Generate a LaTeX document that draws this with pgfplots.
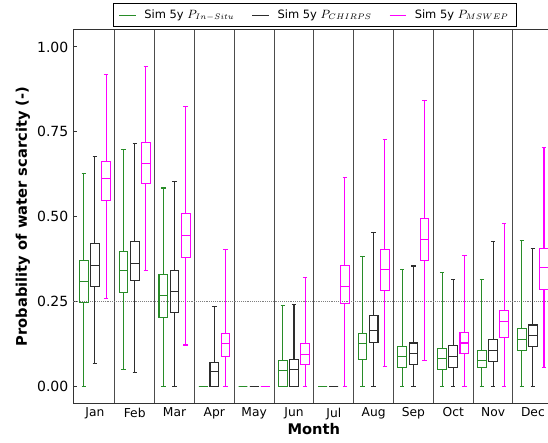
\documentclass[border=0pt]{standalone}
\usepackage{fontspec}
\setmainfont{DejaVu Sans}
\usepackage{pgfplots}
\pgfplotsset{compat=1.18}
\usepgfplotslibrary{statistics}
\definecolor{colG}{RGB}{40,140,40}
\definecolor{colK}{RGB}{45,45,45}
\definecolor{colM}{RGB}{255,0,255}
% \bp{colour}{position}{lower whisker}{Q1}{median}{Q3}{upper whisker}
\newcommand{\bp}[7]{\addplot[#1, forget plot, line width=0.8pt, solid,
  boxplot prepared={draw direction=y, draw position=#2, lower whisker=#3, lower quartile=#4,
  median=#5, upper quartile=#6, upper whisker=#7, box extend=0.22, whisker extend=0.11}]
  coordinates {};}
\begin{document}
\begin{tikzpicture}
\begin{axis}[
  at={(0,0)}, anchor=south west,
  scale only axis, width=356.25pt, height=279.75pt,
  xmin=0.45, xmax=12.38, ymin=-0.05, ymax=1.05,
  axis x line=box, axis y line=left,
  axis line style={-, draw=black!80, line width=0.75pt},
  xtick={1,...,12},
  xticklabels={Jan,Feb,Mar,Apr,May,Jun,Jul,Aug,Sep,Oct,Nov,Dec},
  xtick style={draw=none},
  xticklabel style={font=\fontsize{9.2}{11}\selectfont},
  ytick={0,0.25,0.5,0.75,1},
  ytick style={draw=black!80, line width=0.75pt},
  major tick length=3pt, tick align=inside,
  yticklabel style={font=\fontsize{10.5}{12}\selectfont,
    /pgf/number format/fixed, /pgf/number format/fixed zerofill,
    /pgf/number format/precision=2},
  /pgf/number format/assume math mode=true,
  extra x ticks={1.5,2.5,3.5,4.5,5.5,6.5,7.5,8.5,9.5,10.5,11.5},
  extra x tick labels={},
  extra x tick style={grid=major, major grid style={draw=black!70, line width=0.75pt}, major tick length=0pt},
  extra y ticks={0.25}, extra y tick labels={},
  extra y tick style={grid=major, major grid style={draw=gray, densely dotted, line width=0.4pt}, major tick length=0pt},
  xlabel={Month},
  xlabel style={font=\bfseries\fontsize{11}{13}\selectfont, at={(axis description cs:0.507,-0.0711)}, anchor=center},
  ylabel={Probability of water scarcity (-)},
  ylabel style={font=\bfseries\fontsize{11}{13}\selectfont, at={(axis description cs:-0.1053,0.5)}, anchor=center},
  legend image code/.code={\draw[#1] (0pt,0pt) -- (12.4pt,0pt); \path (16.5pt,0pt);},
  legend style={at={(axis description cs:0.5095,1)}, anchor=south, yshift=2.25pt,
    legend columns=3, draw=black, line width=0.6pt,
    font=\fontsize{8.6}{10}\selectfont, inner xsep=4pt, inner ysep=2.5pt,
    /tikz/every even column/.append style={column sep=11pt}},
]
\addlegendimage{colG, line width=0.75pt}
\addlegendentry{Sim 5y $P_{In-Situ}$}
\addlegendimage{colK, line width=0.75pt}
\addlegendentry{Sim 5y $P_{CHIRPS}$}
\addlegendimage{colM, line width=0.75pt}
\addlegendentry{Sim 5y $P_{MSWEP}$}
% Jan
\bp{colG}{0.72}{0}{0.247}{0.309}{0.370}{0.627}
\bp{colK}{1.00}{0.067}{0.294}{0.356}{0.420}{0.677}
\bp{colM}{1.28}{0.258}{0.546}{0.611}{0.662}{0.920}
% Feb
\bp{colG}{1.72}{0.048}{0.276}{0.342}{0.397}{0.697}
\bp{colK}{2.00}{0.039}{0.310}{0.361}{0.425}{0.716}
\bp{colM}{2.28}{0.340}{0.596}{0.657}{0.718}{0.942}
% Mar
\bp{colG}{2.72}{0}{0.202}{0.266}{0.328}{0.584}
\bp{colK}{3.00}{0}{0.216}{0.280}{0.341}{0.602}
\bp{colM}{3.28}{0.121}{0.380}{0.445}{0.510}{0.824}
% Apr
\bp{colG}{3.72}{0}{0}{0}{0}{0}
\bp{colK}{4.00}{0}{0}{0.043}{0.069}{0.235}
\bp{colM}{4.28}{0}{0.088}{0.125}{0.156}{0.402}
% May
\bp{colG}{4.72}{0}{0}{0}{0}{0}
\bp{colK}{5.00}{0}{0}{0}{0}{0}
\bp{colM}{5.28}{0}{0}{0}{0}{0}
% Jun
\bp{colG}{5.72}{0}{0}{0.045}{0.074}{0.237}
\bp{colK}{6.00}{0}{0}{0.049}{0.077}{0.241}
\bp{colM}{6.28}{0}{0.063}{0.094}{0.125}{0.320}
% Jul
\bp{colG}{6.72}{0}{0}{0}{0}{0}
\bp{colK}{7.00}{0}{0}{0}{0}{0}
\bp{colM}{7.28}{0}{0.243}{0.294}{0.356}{0.616}
% Aug
\bp{colG}{7.72}{0}{0.078}{0.125}{0.156}{0.382}
\bp{colK}{8.00}{0}{0.129}{0.164}{0.207}{0.454}
\bp{colM}{8.28}{0.057}{0.282}{0.343}{0.404}{0.727}
% Sep
\bp{colG}{8.72}{0}{0.054}{0.086}{0.118}{0.344}
\bp{colK}{9.00}{0}{0.064}{0.096}{0.127}{0.354}
\bp{colM}{9.28}{0.074}{0.369}{0.433}{0.495}{0.841}
% Oct
\bp{colG}{9.72}{0}{0.049}{0.080}{0.111}{0.335}
\bp{colK}{10.00}{0}{0.055}{0.087}{0.119}{0.313}
\bp{colM}{10.28}{0}{0.095}{0.127}{0.159}{0.384}
% Nov
\bp{colG}{10.72}{0}{0.055}{0.074}{0.104}{0.314}
\bp{colK}{11.00}{0}{0.072}{0.105}{0.136}{0.427}
\bp{colM}{11.28}{0}{0.143}{0.190}{0.222}{0.480}
% Dec
\bp{colG}{11.72}{0}{0.105}{0.137}{0.169}{0.428}
\bp{colK}{12.00}{0}{0.117}{0.149}{0.180}{0.406}
\bp{colM}{12.28}{0.054}{0.285}{0.350}{0.407}{0.704}
\end{axis}
\pgfresetboundingbox
\useasboundingbox (-54.75pt,-29.25pt) rectangle (356.25pt,302.25pt);
\end{tikzpicture}
\end{document}
